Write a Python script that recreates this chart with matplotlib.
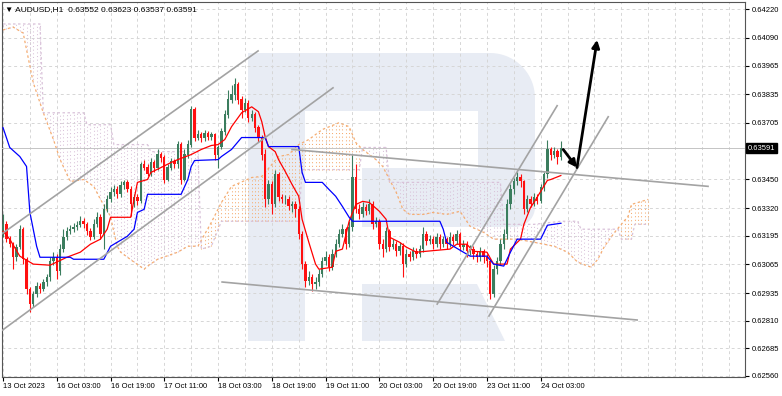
import numpy as np
import matplotlib
matplotlib.use("Agg")
import matplotlib.pyplot as plt
from matplotlib.patches import Polygon

plt.rcParams['font.family'] = ['Liberation Sans', 'DejaVu Sans']
plt.rcParams['font.size'] = 5.5

# AUDUSD H1 candles, prices in points (1e-5)
first_open = 63201
closes = [63246, 63179, 63156, 63097, 63143, 63224, 63088, 62953, 62885, 62931,
          62967, 62953, 62985, 63007, 63079, 63097, 63034, 63134, 63188, 63215,
          63224, 63233, 63242, 63260, 63246, 63215, 63188, 63246, 63278, 63201,
          63314, 63359, 63391, 63404, 63382, 63422, 63436, 63404, 63336, 63368,
          63350, 63517, 63503, 63476, 63526, 63503, 63562, 63548, 63449, 63503,
          63530, 63517, 63607, 63449, 63562, 63607, 63765, 63639, 63652, 63639,
          63657, 63643, 63652, 63562, 63594, 63666, 63742, 63810, 63833, 63878,
          63810, 63765, 63796, 63729, 63742, 63684, 63639, 63562, 63359, 63427,
          63336, 63472, 63368, 63359, 63361, 63327, 63336, 63314, 63201, 63066,
          62989, 63007, 62976, 62985, 63021, 63079, 63097, 63052, 63111, 63156,
          63201, 63224, 63156, 63233, 63458, 63314, 63291, 63323, 63305, 63336,
          63246, 63260, 63156, 63134, 63215, 63143, 63156, 63124, 63147, 63066,
          63111, 63097, 63124, 63111, 63134, 63201, 63170, 63179, 63156, 63188,
          63156, 63179, 63156, 63188, 63170, 63201, 63143, 63156, 63124, 63134,
          63111, 63097, 63124, 63097, 63079, 62931, 63043, 63079, 63156, 63201,
          63336, 63404, 63440, 63458, 63440, 63314, 63359, 63336, 63368, 63350,
          63413, 63472, 63585, 63562, 63575, 63552, 63591]
highs = [63291, 63260, 63192, 63165, 63156, 63242, 63233, 63097, 62962, 62944,
         62985, 62980, 62998, 63021, 63097, 63120, 63111, 63156, 63224, 63233,
         63242, 63251, 63260, 63282, 63273, 63255, 63228, 63269, 63300, 63291,
         63336, 63377, 63413, 63422, 63418, 63440, 63449, 63445, 63418, 63382,
         63382, 63530, 63539, 63521, 63548, 63539, 63585, 63575, 63562, 63517,
         63548, 63544, 63625, 63621, 63585, 63630, 63783, 63778, 63675, 63666,
         63675, 63670, 63666, 63661, 63603, 63684, 63765, 63855, 63878, 63909,
         63891, 63828, 63819, 63810, 63765, 63756, 63697, 63652, 63585, 63449,
         63440, 63494, 63485, 63382, 63377, 63373, 63350, 63350, 63327, 63215,
         63079, 63034, 63021, 63007, 63043, 63097, 63124, 63111, 63134, 63179,
         63224, 63246, 63233, 63260, 63562, 63517, 63336, 63345, 63336, 63359,
         63350, 63278, 63269, 63179, 63233, 63224, 63179, 63170, 63165, 63161,
         63134, 63124, 63143, 63138, 63152, 63233, 63215, 63197, 63192, 63206,
         63201, 63192, 63188, 63210, 63201, 63219, 63210, 63174, 63170, 63152,
         63147, 63124, 63143, 63134, 63111, 63088, 63061, 63097, 63179, 63224,
         63359, 63427, 63458, 63485, 63472, 63449, 63377, 63373, 63386, 63382,
         63427, 63485, 63630, 63598, 63594, 63585, 63623]
lows = [63188, 63165, 63143, 63043, 63079, 63134, 63066, 62931, 62849, 62872,
        62917, 62935, 62944, 62967, 62989, 63061, 62998, 63016, 63120, 63174,
        63201, 63210, 63219, 63233, 63228, 63197, 63174, 63179, 63233, 63179,
        63134, 63300, 63345, 63373, 63364, 63368, 63404, 63391, 63282, 63323,
        63332, 63341, 63490, 63463, 63467, 63485, 63494, 63530, 63431, 63440,
        63494, 63503, 63503, 63427, 63440, 63548, 63594, 63625, 63630, 63621,
        63625, 63630, 63630, 63539, 63503, 63585, 63652, 63729, 63796, 63810,
        63792, 63729, 63756, 63711, 63715, 63666, 63621, 63539, 63323, 63336,
        63291, 63323, 63350, 63341, 63336, 63309, 63300, 63278, 63179, 63043,
        62962, 62971, 62944, 62953, 62967, 63007, 63061, 63034, 63039, 63097,
        63143, 63188, 63134, 63143, 63215, 63296, 63269, 63278, 63287, 63291,
        63224, 63233, 63134, 63097, 63120, 63124, 63134, 63102, 63106, 63007,
        63052, 63079, 63084, 63093, 63097, 63120, 63152, 63156, 63134, 63143,
        63134, 63143, 63134, 63143, 63152, 63156, 63124, 63129, 63097, 63106,
        63088, 63075, 63079, 63070, 63052, 62908, 62917, 63021, 63061, 63134,
        63179, 63314, 63382, 63422, 63413, 63291, 63300, 63323, 63327, 63336,
        63341, 63395, 63458, 63539, 63548, 63521, 63537]
opens = [first_open] + closes[:-1]

# Ichimoku lines: (bar index, price points)
tenkan_i = [0, 2, 5, 9, 14, 19, 23, 26, 29, 31, 32, 38, 39, 40, 43, 44, 47, 50, 52, 56,
            59, 62, 64, 66, 68, 71, 74, 76, 77, 78, 79, 81, 82, 84, 86, 88, 89, 91, 93, 94,
            98, 99, 101, 103, 105, 107, 109, 112, 114, 115, 118, 120, 123, 133, 135, 138, 140, 144, 146, 150,
            151, 154, 155, 157, 158, 160, 162, 163, 166]
tenkan_p = [63215, 63179, 63102, 63066, 63061, 63097, 63120, 63156, 63179, 63224,
            63278, 63278, 63359, 63436, 63449, 63481, 63503, 63526, 63539, 63562,
            63585, 63603, 63607, 63630, 63688, 63751, 63778, 63756, 63711, 63643,
            63598, 63575, 63539, 63485, 63427, 63373, 63269, 63165, 63066, 63043,
            63052, 63124, 63134, 63260, 63336, 63350, 63345, 63305, 63269, 63188,
            63165, 63143, 63120, 63134, 63156, 63156, 63124, 63120, 63066, 63066,
            63134, 63179, 63246, 63323, 63345, 63395, 63445, 63449, 63467]
kijun_i = [0, 2, 5, 7, 8, 10, 11, 20, 21, 30, 32, 37, 39, 40, 42, 43, 53, 55, 56, 57,
           64, 65, 68, 71, 78, 79, 88, 89, 90, 95, 97, 99, 101, 103, 104, 130, 131, 132, 134, 137,
           139, 144, 146, 149, 151, 153, 160, 162, 166]
kijun_p = [63684, 63594, 63553, 63508, 63300, 63147, 63097, 63097, 63088, 63088,
           63147, 63192, 63224, 63300, 63314, 63382, 63382, 63449, 63508, 63535,
           63539, 63553, 63585, 63639, 63639, 63598, 63598, 63481, 63436, 63436,
           63404, 63373, 63327, 63278, 63260, 63260, 63224, 63165, 63147, 63120,
           63102, 63102, 63066, 63057, 63120, 63179, 63179, 63242, 63251]
spanA_i = [0, 3, 6, 9, 12, 15, 17, 20, 24, 27, 29, 32, 33, 34, 35, 39, 42, 43, 46, 52,
           55, 58, 62, 65, 68, 74, 77, 82, 85, 88, 91, 95, 100, 103, 105, 107, 111, 113, 115, 117,
           119, 121, 125, 128, 132, 136, 139, 143, 146, 153, 158, 164, 168, 171, 175, 177, 179, 182, 186, 187,
           192]
spanA_p = [64126, 64139, 64112, 63887, 63751, 63630, 63539, 63440, 63449, 63418,
           63359, 63282, 63210, 63147, 63120, 63075, 63043, 63057, 63088, 63120,
           63147, 63147, 63255, 63345, 63418, 63458, 63463, 63553, 63562, 63607,
           63630, 63675, 63706, 63688, 63616, 63585, 63539, 63508, 63449, 63391,
           63314, 63291, 63291, 63300, 63291, 63305, 63237, 63210, 63179, 63179,
           63165, 63147, 63120, 63075, 63052, 63088, 63147, 63210, 63282, 63336,
           63359]
spanB_i = [0, 6, 11, 12, 24, 25, 32, 33, 43, 44, 58, 59, 62, 65, 88, 89, 106, 107, 114, 115,
           148, 149, 158, 166, 171, 172, 183, 184, 187, 188, 192]
spanB_p = [64153, 64153, 64153, 63751, 63751, 63697, 63697, 63607, 63607, 63575,
           63575, 63134, 63147, 63260, 63260, 63494, 63494, 63594, 63594, 63436,
           63436, 63246, 63246, 63260, 63260, 63224, 63224, 63179, 63179, 63246,
           63246]

# analysis drawings: trend lines and arrows (bar index, price points)
trend_i = [[-0.9, 75.9], [-0.9, 98.2], [86.0, 209.8], [65.2, 188.7], [129.2, 164.9], [144.6, 180.1]]
trend_p = [[63197, 64031], [62759, 63864], [63585, 63418], [62985, 62813], [62885, 63783], [62831, 63733]]
arrows = [((166.7, 63585), (170.8, 63503)), ((170.8, 63503), (176.8, 64081))]

bid = 0.63591
yticks = [0.64220, 0.64090, 0.63965, 0.63835, 0.63705, 0.63450, 0.63320, 0.63195,
          0.63065, 0.62935, 0.62810, 0.62685, 0.62560]
xtick_pos = [0, 16, 32, 48, 64, 80, 96, 112, 128, 144, 160]
xtick_lab = ["13 Oct 2023", "16 Oct 03:00", "16 Oct 19:00", "17 Oct 11:00", "18 Oct 03:00",
             "18 Oct 19:00", "19 Oct 11:00", "20 Oct 03:00", "20 Oct 19:00", "23 Oct 11:00",
             "24 Oct 03:00"]

P = lambda v: np.array(v) / 1e5

fig = plt.figure(figsize=(7.82, 3.96), dpi=100)

# watermark logo behind the chart (pixel space)
bg = fig.add_axes([0, 0, 1, 1], zorder=0)
bg.set_xlim(0, 782)
bg.set_ylim(396, 0)
bg.axis("off")
logo_c = "#e8ecf4"
t1 = np.linspace(np.pi / 2, 0, 20)
t2 = np.linspace(0, -np.pi / 2, 12)
pts = [(248, 53)]
pts += [(490 + 45 * np.cos(t), 98 - 45 * np.sin(t)) for t in t1]
pts += [(515 + 20 * np.cos(t), 207 - 20 * np.sin(t)) for t in t2]
pts += [(362, 227), (362, 168), (478, 168), (478, 111), (305, 111), (305, 341), (248, 341)]
bg.add_patch(Polygon(pts, closed=True, fc=logo_c, ec="none"))
bg.add_patch(Polygon([(362, 284), (477, 284), (505, 341), (362, 341)], closed=True, fc=logo_c, ec="none"))

ax = fig.add_axes([2 / 782, 19 / 396, 743 / 782, 375 / 396], zorder=1)
ax.set_facecolor("none")

# cloud hatch: one dotted vertical per bar
orange, thistle = "#f5ad72", "#d9c2d9"
idx = np.arange(0, 193)
a_bar = np.interp(idx, spanA_i, P(spanA_p))
b_bar = np.interp(idx, spanB_i, P(spanB_p))
cols = [orange if a >= b else thistle for a, b in zip(a_bar, b_bar)]
ax.vlines(idx, np.minimum(a_bar, b_bar), np.maximum(a_bar, b_bar), colors=cols,
          linestyles=(0, (1, 2.5)), lw=0.75, zorder=2)
ax.plot(spanA_i, P(spanA_p), color=orange, lw=0.9, ls=(0, (2, 2)), zorder=2)
ax.plot(spanB_i, P(spanB_p), color=thistle, lw=0.9, ls=(0, (2, 2)), zorder=2)

# candles
o, h, l, c = P(opens), P(highs), P(lows), P(closes)
x = np.arange(len(closes))
up = c >= o
ccol = np.where(up, "#3b7d5e", "#ff1010")
ax.vlines(x, l, h, colors=ccol, lw=0.8, zorder=4)
ax.bar(x, np.abs(c - o) + 0.000015, bottom=np.minimum(o, c), width=0.7, color=ccol, lw=0, zorder=5)

ax.plot(tenkan_i, P(tenkan_p), color="#ff0000", lw=0.9, zorder=6)
ax.plot(kijun_i, P(kijun_p), color="#0000ff", lw=0.9, zorder=6)

ax.axhline(bid, color="#c4c4c4", lw=0.7, zorder=3)

for ti, tp in zip(trend_i, trend_p):
    ax.plot(ti, P(tp), color="#a3a3a3", lw=1.2, zorder=7)
for (x0, y0), (x1, y1) in arrows:
    ax.annotate("", xy=(x1, y1 / 1e5), xytext=(x0, y0 / 1e5),
                arrowprops=dict(arrowstyle="-|>", color="black", lw=2, mutation_scale=11,
                                shrinkA=0, shrinkB=0), zorder=8)

ax.set_xlim(-0.3, 220.8)
ax.set_ylim(0.62555, 0.642525)

ax.yaxis.tick_right()
ax.set_yticks(yticks)
ax.set_yticklabels(["%.5f" % v for v in yticks])
ax.set_xticks(xtick_pos)
ax.set_xticklabels(xtick_lab, ha="left")
ax.set_xticks(np.arange(8, 221, 8), minor=True)
ax.tick_params(axis="both", which="major", length=3, width=0.8, pad=1.5, labelsize=5.5, colors="black")
ax.tick_params(axis="x", which="minor", length=0)
ax.grid(True, which="both", axis="x", color="#d6d6d6", lw=0.7, ls=(0, (3, 3)), zorder=1)
ax.grid(True, which="major", axis="y", color="#d6d6d6", lw=0.7, ls=(0, (3, 3)), zorder=1)
for s in ax.spines.values():
    s.set_color("#555555")
    s.set_linewidth(0.8)

ax.text(0.004, 0.981, "\u25bc AUDUSD,H1  0.63552 0.63623 0.63537 0.63591", transform=ax.transAxes,
        ha="left", va="center", fontsize=6, color="black", zorder=9)
ax.text(1.004, bid, "0.63591", transform=ax.get_yaxis_transform(), ha="left", va="center",
        fontsize=5.5, color="white", clip_on=False, zorder=9,
        bbox=dict(boxstyle="square,pad=0.2", fc="black", ec="black"))

fig.savefig("out.png", dpi=100)
